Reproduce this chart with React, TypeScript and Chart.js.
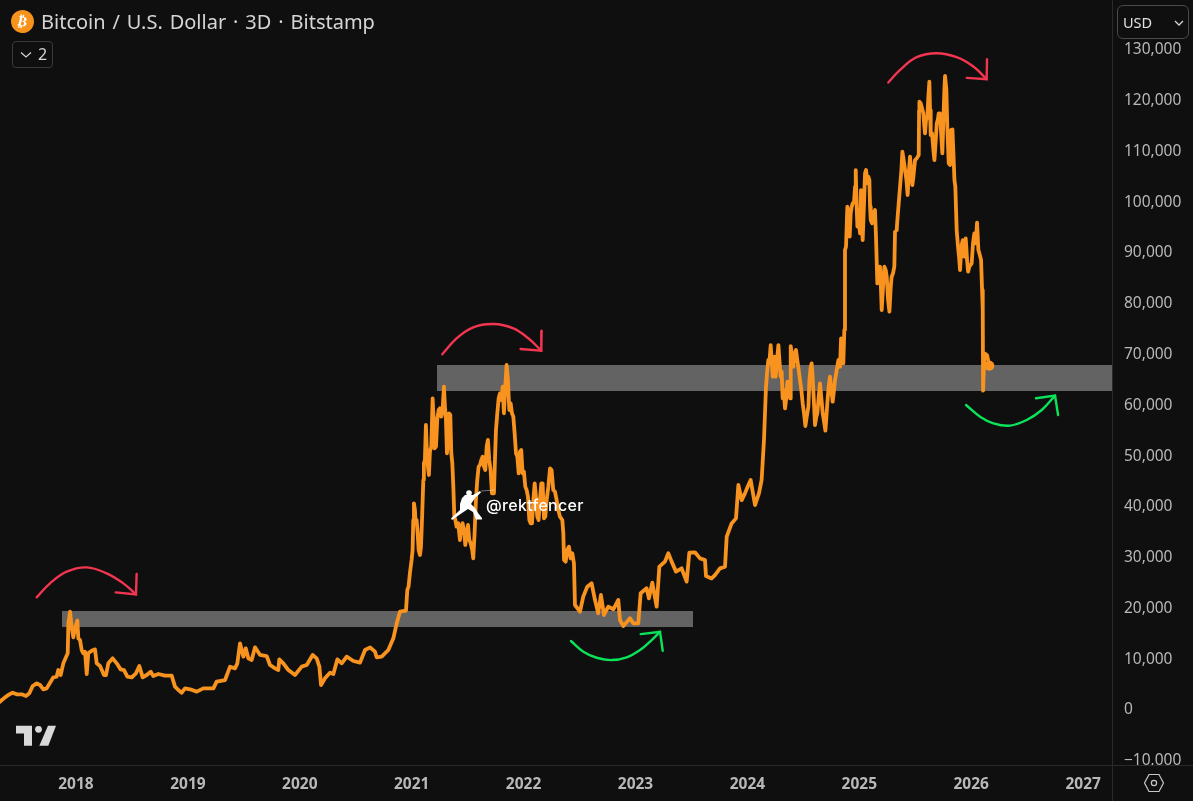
import { useEffect, useRef } from "react"
import { Chart, registerables, type ChartConfiguration } from "chart.js"

Chart.register(...registerables)

// decimal years + close price, one pair of lists per stretch
const slowYears = [
  2017.32, 2017.366, 2017.395, 2017.434, 2017.47, 2017.515, 2017.553, 2017.583, 2017.613, 2017.649, 2017.679, 2017.708,
  2017.738, 2017.768, 2017.798, 2017.827, 2017.842, 2017.863, 2017.887, 2017.926, 2017.932, 2017.947, 2017.961, 2017.976,
  2017.991, 2018.012, 2018.021, 2018.036, 2018.051, 2018.066, 2018.081, 2018.096, 2018.11, 2018.14, 2018.17, 2018.185,
  2018.215, 2018.25, 2018.268, 2018.289, 2018.328, 2018.364, 2018.399, 2018.429, 2018.459, 2018.498, 2018.536, 2018.566,
  2018.596, 2018.632, 2018.668, 2018.691, 2018.736, 2018.796, 2018.855, 2018.885, 2018.915, 2018.945, 2018.974, 2019.019,
  2019.079, 2019.138, 2019.228, 2019.257, 2019.332, 2019.377, 2019.421, 2019.442, 2019.466, 2019.496, 2019.517, 2019.54,
  2019.57, 2019.6, 2019.645, 2019.704, 2019.734, 2019.779, 2019.808, 2019.817, 2019.853, 2019.898, 2019.957, 2020.017,
  2020.062, 2020.115, 2020.151, 2020.175, 2020.19, 2020.225, 2020.27, 2020.3, 2020.336, 2020.375, 2020.419, 2020.479,
  2020.538, 2020.583, 2020.628, 2020.672, 2020.687, 2020.732, 2020.791, 2020.836, 2020.866, 2020.895,
]
const slowPrices = [
  1245, 2100, 2560, 3020, 2690, 2690, 2360, 2890, 4330, 4860, 4530, 3680,
  3870, 4990, 6040, 6170, 7480, 6500, 8800, 10770, 16670, 18970, 16020, 13920,
  15690, 17200, 13720, 13390, 11420, 10770, 11090, 6700, 10770, 11290, 11550, 8800,
  8270, 6500, 6500, 8800, 9780, 8800, 7610, 7480, 6170, 6040, 6830, 8270,
  6040, 6500, 7150, 6300, 6700, 6370, 6370, 4200, 3540, 3020, 3870, 3680,
  3220, 3870, 3870, 5180, 5510, 8140, 7810, 8800, 12730, 10110, 11750, 9780,
  9450, 11950, 10440, 10240, 8470, 7810, 7480, 9580, 8800, 7480, 6500, 8140,
  8470, 10440, 9780, 8140, 4530, 5840, 6960, 6700, 9580, 8800, 10110, 9260,
  8930, 11420, 11950, 11090, 9980, 10110, 11420, 13720, 16670, 18970,
]

const bull2021Years = [
  2020.949, 2020.961, 2020.972, 2020.984, 2020.999, 2021.008, 2021.014, 2021.02, 2021.029, 2021.035,
  2021.044, 2021.053, 2021.062, 2021.074, 2021.083, 2021.092, 2021.104, 2021.109, 2021.118, 2021.127,
  2021.136, 2021.145, 2021.154, 2021.163, 2021.175, 2021.187, 2021.196, 2021.205, 2021.217, 2021.229,
  2021.241, 2021.252, 2021.264, 2021.276, 2021.288, 2021.297, 2021.306, 2021.315, 2021.324, 2021.333,
  2021.345, 2021.354, 2021.363, 2021.372, 2021.381, 2021.39, 2021.401, 2021.416, 2021.431, 2021.443,
  2021.455, 2021.467, 2021.479, 2021.491, 2021.503, 2021.515, 2021.527, 2021.541, 2021.55, 2021.562,
  2021.574, 2021.586, 2021.598, 2021.61, 2021.622, 2021.634, 2021.646, 2021.658, 2021.67, 2021.681,
  2021.693, 2021.705, 2021.717, 2021.735, 2021.744, 2021.753, 2021.765, 2021.777, 2021.789, 2021.801,
  2021.813, 2021.824, 2021.836, 2021.848, 2021.86, 2021.872, 2021.884, 2021.896, 2021.908, 2021.92,
  2021.932, 2021.944, 2021.956, 2021.967, 2021.979, 2021.991, 2022.003, 2022.015, 2022.027, 2022.039,
  2022.051, 2022.063, 2022.075, 2022.087, 2022.099, 2022.11, 2022.122, 2022.134, 2022.146, 2022.158,
  2022.17, 2022.182, 2022.194, 2022.206, 2022.221, 2022.236, 2022.25, 2022.265, 2022.28, 2022.295,
  2022.31, 2022.325, 2022.346, 2022.355, 2022.361, 2022.376, 2022.39, 2022.405, 2022.42, 2022.435,
  2022.45,
]
const bull2021Prices = [
  19170, 23250, 23900, 26530, 29150, 31130, 37030, 40320, 39000, 36380,
  37030, 34410, 31130, 30140, 31780, 37030, 44910, 48200, 48850, 55750,
  50170, 47540, 45900, 50490, 51480, 61000, 56730, 51150, 51480, 57060,
  58700, 59030, 57390, 58700, 63300, 59360, 56730, 50170, 52140, 58050,
  57720, 50170, 48200, 43600, 37690, 37030, 35720, 36380, 33090, 35720,
  36380, 35060, 32110, 34410, 36050, 33090, 32440, 31130, 29480, 34410,
  40970, 44910, 47540, 47870, 48850, 49510, 47540, 46880, 51480, 52790,
  48850, 46880, 42290, 42290, 48850, 54760, 58050, 61000, 61980, 60670,
  63300, 58050, 63300, 67570, 64610, 58700, 60020, 58050, 57390, 54100,
  50170, 49510, 46230, 50490, 50820, 46230, 46560, 43600, 42940, 41630,
  37030, 36380, 36380, 40970, 44260, 41630, 37690, 37030, 40970, 44260,
  44260, 37360, 37690, 40970, 43600, 47210, 46880, 42940, 42620, 40970,
  39000, 37690, 37030, 34410, 29150, 28830, 31130, 31780, 29480, 30470,
  28500,
]

const bear2022Years = [
  2022.459, 2022.504, 2022.533, 2022.569, 2022.608, 2022.638, 2022.667, 2022.691, 2022.718, 2022.757,
  2022.802, 2022.846, 2022.861, 2022.891, 2022.951, 2022.98, 2023.025, 2023.046, 2023.099, 2023.12,
  2023.15, 2023.189, 2023.213, 2023.263, 2023.293, 2023.323, 2023.362, 2023.412, 2023.457, 2023.481,
  2023.531, 2023.576, 2023.621, 2023.63, 2023.68, 2023.71, 2023.755, 2023.8, 2023.815, 2023.859,
  2023.898, 2023.919, 2023.949, 2023.978, 2024.002, 2024.029, 2024.068, 2024.103, 2024.127, 2024.148,
]
const bear2022Prices = [
  20290, 18980, 21930, 23900, 24560, 21270, 18650, 22260, 18320, 19960,
  19440, 21270, 17340, 16150, 17660, 16680, 16680, 22590, 23580, 21600,
  24690, 19960, 27840, 28830, 30470, 28830, 26860, 27510, 24890, 30600,
  30670, 29470, 29140, 25990, 25530, 26190, 27500, 27830, 33740, 36360,
  37350, 43920, 40960, 42270, 43590, 44900, 39980, 42270, 44900, 52780,
]

const bull2024Years = [
  2024.166, 2024.178, 2024.187, 2024.196, 2024.208, 2024.217, 2024.226, 2024.235, 2024.244, 2024.253,
  2024.262, 2024.277, 2024.286, 2024.297, 2024.306, 2024.315, 2024.324, 2024.336, 2024.345, 2024.357,
  2024.369, 2024.381, 2024.387, 2024.399, 2024.411, 2024.423, 2024.434, 2024.446, 2024.458, 2024.47,
  2024.482, 2024.494, 2024.506, 2024.518, 2024.53, 2024.545, 2024.554, 2024.566, 2024.574, 2024.583,
  2024.595, 2024.604, 2024.616, 2024.625, 2024.637, 2024.649, 2024.661, 2024.673, 2024.685, 2024.697,
  2024.706, 2024.714, 2024.726, 2024.738, 2024.75, 2024.762, 2024.774, 2024.783, 2024.798, 2024.813,
  2024.828, 2024.837, 2024.846, 2024.857, 2024.866, 2024.872, 2024.881, 2024.893, 2024.905, 2024.914,
  2024.923, 2024.932, 2024.941, 2024.953, 2024.962, 2024.968, 2024.977, 2024.983, 2024.995, 2025.006,
  2025.015, 2025.024, 2025.03, 2025.042, 2025.051, 2025.06, 2025.072, 2025.081, 2025.09, 2025.096,
  2025.102, 2025.114, 2025.126, 2025.14, 2025.149, 2025.161, 2025.173, 2025.185, 2025.194, 2025.2,
  2025.212, 2025.224, 2025.236, 2025.245, 2025.257, 2025.269, 2025.281, 2025.289, 2025.301, 2025.313,
  2025.319, 2025.334, 2025.34, 2025.352, 2025.364, 2025.376, 2025.385, 2025.394, 2025.409, 2025.421,
  2025.432, 2025.444, 2025.453, 2025.462, 2025.474, 2025.483, 2025.498, 2025.513, 2025.531, 2025.534,
  2025.537, 2025.549, 2025.561, 2025.572, 2025.581, 2025.587, 2025.596, 2025.608, 2025.617, 2025.626,
  2025.632, 2025.638, 2025.65, 2025.662, 2025.671, 2025.683, 2025.692, 2025.701, 2025.71, 2025.721,
  2025.733, 2025.742, 2025.751, 2025.76, 2025.766, 2025.778, 2025.787, 2025.799, 2025.811, 2025.82,
  2025.832, 2025.841, 2025.85, 2025.858, 2025.87, 2025.882, 2025.891, 2025.9, 2025.912, 2025.924,
  2025.936, 2025.951, 2025.963, 2025.972, 2025.983, 2026.004, 2026.016, 2026.028, 2026.04, 2026.052,
  2026.064, 2026.073, 2026.088, 2026.097, 2026.103, 2026.106, 2026.118, 2026.141, 2026.162,
]
const bull2024Prices = [
  63280, 66570, 68540, 67880, 71490, 68540, 65250, 67220, 69190, 65250,
  67880, 71490, 68540, 65250, 66240, 60980, 62630, 59010, 60660, 64270,
  63610, 60980, 71290, 69190, 67220, 69850, 70510, 68540, 66570, 64600,
  62630, 60000, 58030, 55540, 57370, 59340, 64600, 67220, 67880, 65250,
  60000, 55730, 57370, 58030, 61310, 63940, 60980, 58030, 56390, 54620,
  57370, 60000, 63280, 65250, 62630, 60330, 62630, 64600, 66570, 68540,
  67220, 72800, 69850, 67880, 74450, 90200, 90860, 98740, 96770, 92830,
  97430, 98740, 99400, 99730, 102680, 105960, 98080, 94800, 96110, 93490,
  102020, 94800, 92170, 99400, 105310, 105960, 103340, 104650, 103990, 98740,
  96110, 95460, 97430, 98080, 92830, 83640, 86260, 86920, 82320, 78390,
  82980, 86920, 86260, 84950, 80350, 78060, 82980, 84950, 85610, 86920,
  93810, 94140, 96110, 99400, 102680, 105960, 109570, 108260, 105960, 103990,
  101040, 105960, 108590, 105960, 103010, 104650, 107930, 108260, 108920, 117780,
  119420, 119090, 118110, 117120, 114500, 113190, 115810, 116470, 120410, 123360,
  117780, 112860, 113190, 109900, 107930, 111870, 115150, 115810, 117120, 117120,
  112530, 109240, 115810, 121720, 124480, 121720, 113840, 107280, 106950, 113840,
  113970, 109240, 103990, 102680, 94140, 90860, 88890, 86260, 90860, 92170,
  88890, 92500, 88230, 85940, 86920, 87580, 91520, 93490, 91520, 95590,
  90200, 89550, 88230, 82320, 78390, 62500, 69850, 69520, 67420,
]

const btcYears = [...slowYears, ...bull2021Years, ...bear2022Years, ...bull2024Years]
const btcPrices = [...slowPrices, ...bull2021Prices, ...bear2022Prices, ...bull2024Prices]

const priceTicks = [-10000, 0, 10000, 20000, 30000, 40000, 50000, 60000, 70000, 80000, 90000, 100000, 110000, 120000, 130000]
const yearTicks = [2018, 2019, 2020, 2021, 2022, 2023, 2024, 2025, 2026, 2027]

// grey support/resistance bands
const lowerZoneYears = [2017.875, 2023.514]
const lowerZonePrices = [19100, 15950]
const upperZoneYears = [2021.226, 2027.3]
const upperZonePrices = [67570, 62440]

// hand drawn arrows
const redArcs = [
  {
    years: [2017.649, 2017.768, 2017.917, 2018.096, 2018.274, 2018.423, 2018.536],
    prices: [21800, 24550, 26850, 27700, 26520, 24550, 22390],
    headYears: [2018.542, 2018.536, 2018.355],
    headPrices: [26390, 22390, 22780],
  },
  {
    years: [2021.273, 2021.401, 2021.55, 2021.729, 2021.908, 2022.042, 2022.158],
    prices: [69670, 72820, 74990, 75640, 74790, 72820, 70390],
    headYears: [2022.161, 2022.158, 2021.973],
    headPrices: [74330, 70390, 70720],
  },
  {
    years: [2025.259, 2025.364, 2025.513, 2025.691, 2025.87, 2026.019, 2026.138],
    prices: [123200, 125690, 128190, 128970, 128190, 126350, 123850],
    headYears: [2026.141, 2026.138, 2025.96],
    headPrices: [127790, 123850, 124110],
  },
]
const greenArcs = [
  {
    years: [2022.423, 2022.534, 2022.653, 2022.787, 2022.921, 2023.04, 2023.144, 2023.219],
    prices: [13190, 11090, 9900, 9440, 9970, 11410, 13380, 15020],
    headYears: [2023.046, 2023.219, 2023.243],
    headPrices: [14560, 15020, 11280],
  },
  {
    years: [2025.954, 2026.079, 2026.198, 2026.347, 2026.496, 2026.63, 2026.749],
    prices: [59690, 57390, 56080, 55620, 56730, 58700, 61530],
    headYears: [2026.579, 2026.749, 2026.776],
    headPrices: [61000, 61530, 57720],
  },
]

const BG = "#0f0f0f"
const ORANGE = "#f7931e"
const RED = "#f23650"
const GREEN = "#0be45a"
const ZONE = "#636363"
const LABEL = "#b8b8b8"
const FONT = "'Noto Sans', sans-serif"

const toPoints = (xs: number[], ys: number[]) => xs.map((x, i) => ({ x, y: ys[i] }))

// the panes run edge to edge, so drop the room Chart.js keeps for the outer tick labels
const noScalePadding = (scale: any) => {
  scale.paddingTop = 0
  scale.paddingBottom = 0
  scale.paddingLeft = 0
  scale.paddingRight = 0
}

// hides tick text under the time axis and draws the pane separators
const panePlugin = {
  id: "pane",
  beforeDatasetsDraw(chart: Chart) {
    const { ctx, chartArea, width, height } = chart
    ctx.save()
    ctx.fillStyle = BG
    ctx.fillRect(0, chartArea.bottom, width, height - chartArea.bottom)
    ctx.fillStyle = "#2a2a2a"
    ctx.fillRect(0, chartArea.bottom, width, 1)
    ctx.fillRect(chartArea.right, 0, 1, height)
    ctx.restore()
  },
}

function arrowDatasets(arcs: typeof redArcs, color: string) {
  return arcs.flatMap((arc) => [
    {
      data: toPoints(arc.years, arc.prices),
      showLine: true,
      borderColor: color,
      borderWidth: 2.4,
      borderCapStyle: "round",
      pointRadius: 0,
      tension: 0.4,
      order: 1,
    },
    {
      data: toPoints(arc.headYears, arc.headPrices),
      showLine: true,
      borderColor: color,
      borderWidth: 2.4,
      borderCapStyle: "round",
      pointRadius: 0,
      order: 1,
    },
  ])
}

function zoneDataset(years: number[], prices: number[]) {
  return {
    data: toPoints(years, [prices[0], prices[0]]),
    showLine: true,
    borderWidth: 0,
    pointRadius: 0,
    backgroundColor: ZONE,
    fill: { value: prices[1] },
    order: 3,
  }
}

export default function App() {
  const chartRef = useRef<HTMLCanvasElement>(null)

  useEffect(() => {
    document.documentElement.style.background = BG
    document.body.style.margin = "0"
    if (!chartRef.current) return

    const lastIndex = btcYears.length - 1
    const config: ChartConfiguration = {
      type: "scatter",
      data: {
        datasets: [
          zoneDataset(lowerZoneYears, lowerZonePrices),
          zoneDataset(upperZoneYears, upperZonePrices),
          {
            data: toPoints(btcYears, btcPrices),
            showLine: true,
            borderColor: ORANGE,
            borderWidth: 3.8,
            borderCapStyle: "round",
            borderJoinStyle: "round",
            pointRadius: 0,
            order: 2,
          },
          {
            data: [{ x: btcYears[lastIndex], y: btcPrices[lastIndex] }],
            pointRadius: 5,
            pointBackgroundColor: ORANGE,
            pointBorderWidth: 0,
            order: 2,
          },
          ...arrowDatasets(redArcs, RED),
          ...arrowDatasets(greenArcs, GREEN),
        ] as any,
      },
      options: {
        animation: false,
        responsive: false,
        events: [],
        layout: { padding: 0, autoPadding: false },
        plugins: { legend: { display: false }, tooltip: { enabled: false } },
        scales: {
          x: {
            type: "linear",
            min: 2017.321,
            max: 2027.258,
            grid: { display: false },
            border: { display: false },
            afterFit: (scale) => {
              noScalePadding(scale)
              scale.height = 36
            },
            afterBuildTicks: (axis) => {
              axis.ticks = yearTicks.map((value) => ({ value }))
            },
            ticks: {
              z: 1,
              autoSkip: false,
              maxRotation: 0,
              padding: 2,
              color: LABEL,
              font: { family: FONT, size: 15.5, weight: "bold" },
              callback: (value) => String(value),
            },
          },
          y: {
            type: "linear",
            position: "right",
            min: -11227,
            max: 139453,
            grid: { display: false },
            border: { display: false },
            afterFit: (scale) => {
              noScalePadding(scale)
              scale.width = 81
            },
            afterBuildTicks: (axis) => {
              axis.ticks = priceTicks.map((value) => ({ value }))
            },
            ticks: {
              autoSkip: false,
              padding: 4,
              labelOffset: 2,
              color: LABEL,
              font: { family: FONT, size: 15.5 },
              callback: (value) => Number(value).toLocaleString("en-US").replace("-", "\u2212"),
            },
          },
        },
      },
      plugins: [panePlugin],
    }

    const chart = new Chart(chartRef.current, config)
    return () => chart.destroy()
  }, [])

  return (
    <div style={{ position: "relative", width: 1193, height: 801, background: BG, overflow: "hidden", fontFamily: FONT }}>
      <canvas ref={chartRef} width={1193} height={801} style={{ display: "block" }} />

      {/* symbol header */}
      <div style={{ position: "absolute", left: 11, top: 10, width: 23, height: 23, borderRadius: "50%", background: "#f7931a", color: "#fff", fontFamily: "'DejaVu Sans'", fontWeight: 700, fontSize: 14, lineHeight: "23px", textAlign: "center", transform: "rotate(12deg)" }}>
        ₿
      </div>
      <div style={{ position: "absolute", left: 41, top: 7, color: "#d6d6d6", fontSize: 20, wordSpacing: 1.7, lineHeight: "30px", whiteSpace: "nowrap" }}>
        Bitcoin / U.S. Dollar · 3D · Bitstamp
      </div>
      <div style={{ position: "absolute", left: 12, top: 41, width: 39, height: 25, border: "1px solid #3a3a3a", borderRadius: 4, color: "#d6d6d6", fontSize: 16, lineHeight: "25px" }}>
        <svg width="12" height="8" style={{ position: "absolute", left: 7, top: 9 }}>
          <path d="M1 1.5 L6 6 L11 1.5" fill="none" stroke="#d6d6d6" strokeWidth="1.2" />
        </svg>
        <span style={{ position: "absolute", left: 25 }}>2</span>
      </div>

      {/* currency box */}
      <div style={{ position: "absolute", left: 1117, top: 5, width: 70, height: 32, border: "1px solid #4a4a4a", borderRadius: 6, background: BG, color: "#e0e0e0", fontSize: 14.5, lineHeight: "32px" }}>
        <span style={{ position: "absolute", left: 5 }}>USD</span>
        <svg width="10" height="6" style={{ position: "absolute", left: 56, top: 14 }}>
          <path d="M1 1 L5 5 L9 1" fill="none" stroke="#d6d6d6" strokeWidth="1.3" />
        </svg>
      </div>

      {/* watermark */}
      <svg width="60" height="50" style={{ position: "absolute", left: 440, top: 480 }}>
        <polygon fill="#fff" points="11,38.5 20,30 20,24 22,18 25,15 33,15 40,11 41,12.5 35,18 31,24 35,28 38,33 42,38 42,39.5 36,39.5 33,32 28,29 22,33 12,40" />
        <circle cx="29" cy="13" r="2.8" fill="#fff" />
        <line x1="41" y1="11" x2="55" y2="10" stroke="#fff" strokeOpacity="0.6" strokeWidth="0.7" />
      </svg>
      <div style={{ position: "absolute", left: 486, top: 495, color: "#fff", fontFamily: "Inter", fontWeight: 500, fontSize: 16, letterSpacing: 0.3, lineHeight: "20px", whiteSpace: "nowrap" }}>
        @rektfencer
      </div>

      {/* TradingView logo */}
      <svg width="42" height="22" viewBox="0 0 42 22" style={{ position: "absolute", left: 15, top: 725 }}>
        <path fill="#d9d9d9" d="M1 0.7 H17 V20.7 H9 V8.5 H1 Z" />
        <circle cx="23.5" cy="4.3" r="3.4" fill="#d9d9d9" />
        <path fill="#d9d9d9" d="M33 0.7 H41 L33.3 20.7 H24.3 Z" />
      </svg>

      {/* settings hexagon */}
      <svg width="22" height="20" style={{ position: "absolute", left: 1143, top: 773 }}>
        <path d="M6 1.5 H16 L20.5 10 L16 18.5 H6 L1.5 10 Z" fill="none" stroke="#c8c8c8" strokeWidth="1.2" />
        <circle cx="11" cy="10" r="2.6" fill="none" stroke="#c8c8c8" strokeWidth="1.2" />
      </svg>
    </div>
  )
}
